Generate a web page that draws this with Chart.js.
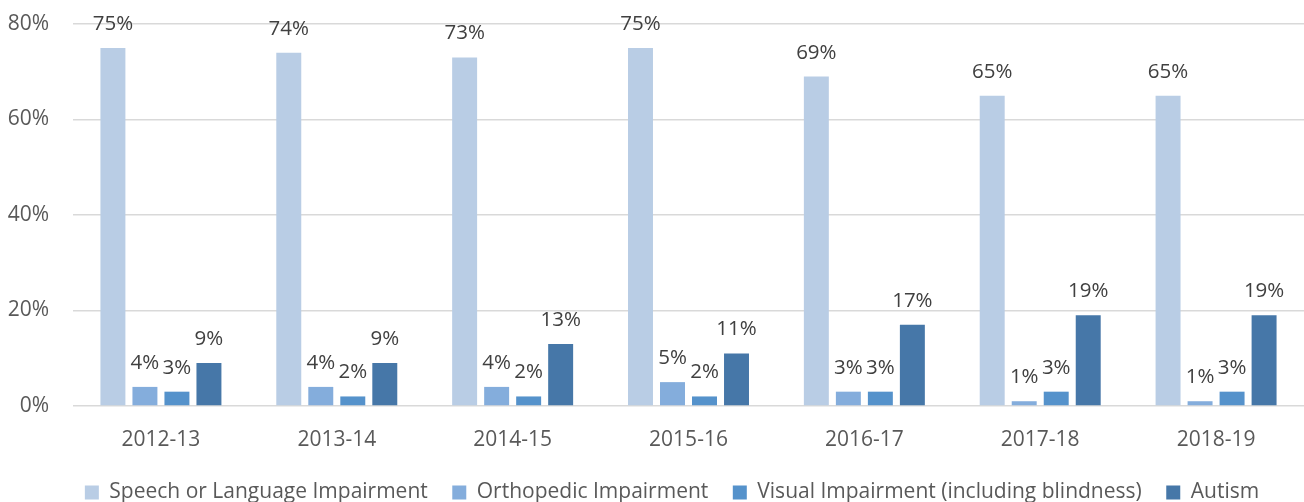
<!DOCTYPE html>
<html lang="en">
<head>
    <meta charset="UTF-8">
    <title>Disability categories by school year</title>
    <script src="https://cdn.jsdelivr.net/npm/chart.js"></script>
    <style>
        body {
            margin: 0;
            padding: 0;
            background: #fff;
        }

        .container {
            width: 1304px;
            height: 502px;
        }
    </style>
</head>
<body>

    <div class="container">
        <canvas id="disabilityChart"></canvas>
    </div>

    <script>
        const years = ['2012-13', '2013-14', '2014-15', '2015-16', '2016-17', '2017-18', '2018-19'];

        const speech = [75, 74, 73, 75, 69, 65, 65];
        const orthopedic = [4, 4, 4, 5, 3, 1, 1];
        const visual = [3, 2, 2, 2, 3, 3, 3];
        const autism = [9, 9, 13, 11, 17, 19, 19];

        const yTicks = [0, 20, 40, 60, 80];

        const FONT = "'Open Sans', sans-serif";

        // percent labels above each bar
        const valueLabels = {
            id: 'valueLabels',
            afterDatasetsDraw(chart) {
                const ctx = chart.ctx;
                ctx.save();
                ctx.font = `20.5px ${FONT}`;
                ctx.fillStyle = '#404040';
                ctx.textAlign = 'center';
                ctx.textBaseline = 'alphabetic';
                chart.data.datasets.forEach((ds, i) => {
                    chart.getDatasetMeta(i).data.forEach((bar, j) => {
                        ctx.fillText(ds.data[j] + '%', bar.x, bar.y - 18);
                    });
                });
                ctx.restore();
            }
        };

        // nudge the legend row a little to the right
        const legendShift = {
            id: 'legendShift',
            afterLayout(chart) {
                chart.legend.left += 18;
                chart.legend.right += 18;
            }
        };

        const ctx = document.getElementById('disabilityChart').getContext('2d');

        const chart = new Chart(ctx, {
            type: 'bar',
            data: {
                labels: years,
                datasets: [
                    { label: 'Speech or Language Impairment', data: speech, backgroundColor: '#b9cde5' },
                    { label: 'Orthopedic Impairment', data: orthopedic, backgroundColor: '#84addc' },
                    { label: 'Visual Impairment (including blindness)', data: visual, backgroundColor: '#5592cb' },
                    { label: 'Autism', data: autism, backgroundColor: '#4677a8' }
                ]
            },
            options: {
                responsive: true,
                maintainAspectRatio: false,
                animation: false,
                categoryPercentage: 0.728,
                barPercentage: 0.78,
                layout: {
                    padding: { top: 24, right: 0, left: 4, bottom: -11 }
                },
                plugins: {
                    tooltip: { enabled: false },
                    legend: {
                        position: 'bottom',
                        labels: {
                            font: { family: FONT, size: 21 },
                            color: '#595959',
                            boxWidth: 14,
                            boxHeight: 14,
                            padding: 24.5
                        }
                    }
                },
                scales: {
                    x: {
                        grid: { display: false },
                        border: { display: false },
                        afterFit: scale => {
                            scale.height = 51.5;
                        },
                        ticks: {
                            font: { family: FONT, size: 21 },
                            color: '#595959',
                            padding: 13
                        }
                    },
                    y: {
                        min: 0,
                        max: 80,
                        afterBuildTicks: scale => {
                            scale.ticks = yTicks.map(v => ({ value: v }));
                        },
                        afterFit: scale => {
                            scale.width = 69;
                        },
                        grid: {
                            color: '#d9d9d9',
                            lineWidth: 1.5,
                            tickLength: 24,
                            tickColor: 'transparent'
                        },
                        border: { display: false },
                        ticks: {
                            font: { family: FONT, size: 21 },
                            color: '#595959',
                            padding: 0,
                            callback: v => v + '%'
                        }
                    }
                }
            },
            plugins: [valueLabels, legendShift]
        });
    </script>

</body>
</html>
